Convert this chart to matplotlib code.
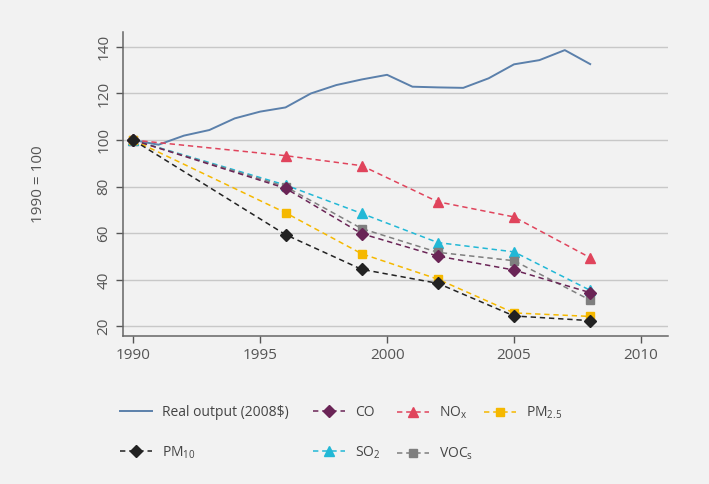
import matplotlib.pyplot as plt

plt.rcParams['font.family'] = ['Open Sans', 'DejaVu Sans']

# real output, yearly
years = list(range(1990, 2009))
real_output = [100, 98, 101.9, 104.3, 109.3, 112.2, 114, 120, 123.6, 126, 128,
               122.9, 122.6, 122.4, 126.5, 132.5, 134.3, 138.6, 132.6]

# pollutants, survey years
p_years = [1990, 1996, 1999, 2002, 2005, 2008]
co = [100, 79.3, 59.8, 50.2, 44.2, 34.5]
nox = [100, 93.3, 89, 73.5, 67, 49.5]
pm25 = [100, 68.8, 51.2, 40.3, 25.8, 24.3]
pm10 = [100, 59.4, 44.5, 38.5, 24.5, 22.5]
so2 = [100, 80.7, 68.5, 56, 52, 35.5]
vocs = [100, 80, 62, 51.8, 48.2, 31.3]

bg = '#f2f2f2'
fig = plt.figure(figsize=(7.09, 4.84), dpi=100, facecolor=bg)
ax = fig.add_axes([0.1735, 0.3058, 0.7685, 0.6282], facecolor=bg)

dash = (0, (3.5, 2.5))
h_real, = ax.plot(years, real_output, color='#5b80ab', lw=1.4, label='Real output (2008$)')
h_nox, = ax.plot(p_years, nox, ls=dash, color='#e0445c', lw=1.1, marker='^', ms=7,
                 label='NO$_\\mathregular{x}$')
h_so2, = ax.plot(p_years, so2, ls=dash, color='#22b8d6', lw=1.1, marker='^', ms=7,
                 label='SO$_\\mathregular{2}$')
h_vocs, = ax.plot(p_years, vocs, ls=dash, color='#7f7f7f', lw=1.1, marker='s', ms=6,
                  label='VOC$_\\mathregular{s}$')
h_pm25, = ax.plot(p_years, pm25, ls=dash, color='#f5b800', lw=1.1, marker='s', ms=6,
                  label='PM$_\\mathregular{2.5}$')
h_co, = ax.plot(p_years, co, ls=dash, color='#6a2456', lw=1.1, marker='D', ms=6,
                label='CO')
h_pm10, = ax.plot(p_years, pm10, ls=dash, color='#222222', lw=1.1, marker='D', ms=6,
                  label='PM$_\\mathregular{10}$')

ax.set_xlim(1989.6, 2011.06)
ax.set_ylim(15.9, 146.4)
ax.set_xticks([1990, 1995, 2000, 2005, 2010])
ax.set_yticks([20, 40, 60, 80, 100, 120, 140])
ax.yaxis.grid(True, color='#c8c8c8', lw=1.0)
ax.set_axisbelow(True)
for s in ['top', 'right']:
    ax.spines[s].set_visible(False)
for s in ['left', 'bottom']:
    ax.spines[s].set_color('#666666')
    ax.spines[s].set_linewidth(1.1)
ax.tick_params(colors='#555555', labelsize=11, length=5, width=1.0)
plt.setp(ax.get_yticklabels(), rotation=90, va='center')
ax.set_ylabel('1990 = 100', color='#555555', fontsize=11, labelpad=36)

# legend: one small legend per column, placed under the plot
columns = [[h_real, h_pm10], [h_co, h_so2], [h_nox, h_vocs], [h_pm25]]
col_x = [120, 313, 397, 484]
for hs, x in zip(columns, col_x):
    leg = fig.legend(hs, [h.get_label() for h in hs], loc='upper left',
                     bbox_to_anchor=(x / 709, 1 - 405 / 484), frameon=False,
                     fontsize=10, labelcolor='#444444', handlelength=2.3,
                     labelspacing=1.75, handletextpad=0.75, borderpad=0,
                     borderaxespad=0)

fig.savefig('out.png', dpi=100, facecolor=bg)
